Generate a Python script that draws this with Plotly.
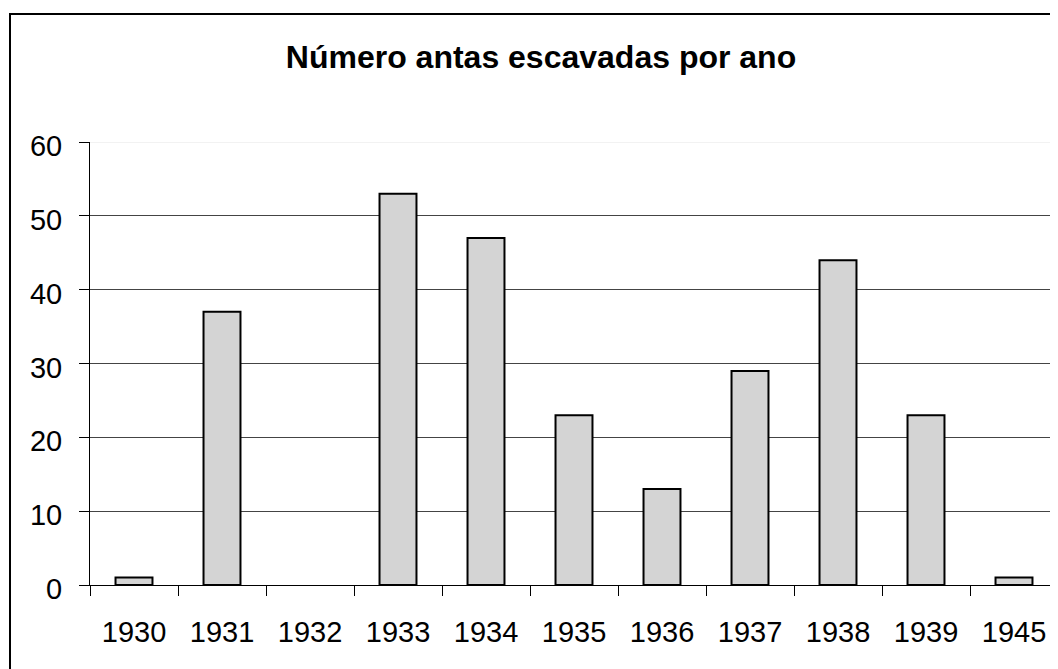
import plotly.graph_objects as go

years = ["1930", "1931", "1932", "1933", "1934", "1935", "1936", "1937", "1938", "1939", "1945"]
counts = [1, 37, 0, 53, 47, 23, 13, 29, 44, 23, 1]
y_ticks = [0, 10, 20, 30, 40, 50, 60]
title_text = "Número antas escavadas por ano"

# page has an 8px body margin; figure coordinates are offset by it
OFF = 8
W, H = 1058 - OFF, 669 - OFF
L, R, T, B = 90 - OFF, 0, 142 - OFF, 669 - 585
pw, ph = W - L - R, H - T - B

fig = go.Figure(go.Bar(
    x=years, y=counts,
    marker=dict(color="#D4D4D4",
                line=dict(color="black", width=[2 if v > 0 else 0 for v in counts])),
))

def px_x(v):
    return (v - OFF - L) / pw

def px_y(v):
    return (OFF + H - B - v) / ph

fig.update_layout(
    width=W, height=H,
    margin=dict(l=L, r=R, t=T, b=B, pad=0),
    paper_bgcolor="white", plot_bgcolor="white",
    font=dict(family="Liberation Sans, Arial, sans-serif", size=29, color="black"),
    bargap=0.58,
    showlegend=False,
    title=dict(text="<b>" + title_text + "</b>", font=dict(size=32),
               x=(541 - OFF) / W, xanchor="center", xref="container",
               y=1 - (57 - OFF) / H, yanchor="middle", yref="container"),
    xaxis=dict(type="category", showline=True, linecolor="black", linewidth=1,
               ticks="outside", ticklen=10, tickcolor="black", tickwidth=1,
               tickson="boundaries", showgrid=False, ticklabelstandoff=21),
    yaxis=dict(range=[0, 60], tickvals=y_ticks, showline=True, linecolor="black", linewidth=1,
               ticks="outside", ticklen=10, tickcolor="black", tickwidth=1,
               showgrid=True, gridcolor="#444444", gridwidth=1, zeroline=False,
               ticklabelstandoff=11, ticklabelshift=4),
    shapes=[
        dict(type="rect", xref="paper", yref="paper",
             x0=px_x(10), x1=px_x(1063), y0=px_y(674), y1=px_y(14),
             line=dict(color="black", width=2), layer="below"),
        dict(type="line", xref="paper", yref="y", x0=0, x1=1, y0=y_ticks[-1], y1=y_ticks[-1],
             line=dict(color="#E6E6E6", width=1), layer="below"),
    ],
)

fig.write_html("out.html")
